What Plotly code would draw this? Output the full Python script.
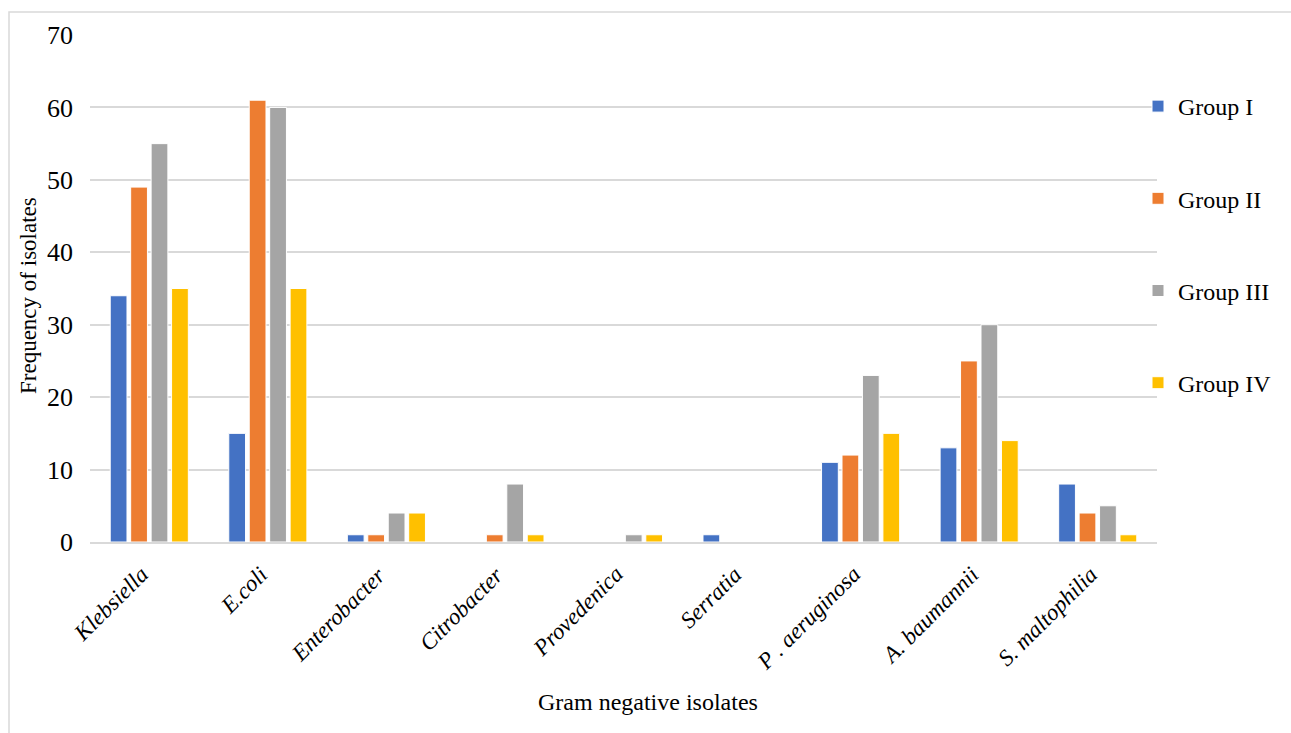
import plotly.graph_objects as go

# Gram negative isolates by patient group
categories = ["Klebsiella", "E.coli", "Enterobacter", "Citrobacter", "Provedenica",
              "Serratia", "P . aeruginosa", "A. baumannii", "S. maltophilia"]
group_names = ["Group I", "Group II", "Group III", "Group IV"]
group_1 = [34, 15, 1, 0, 0, 1, 11, 13, 8]
group_2 = [49, 61, 1, 1, 0, 0, 12, 25, 4]
group_3 = [55, 60, 4, 8, 1, 0, 23, 30, 5]
group_4 = [35, 35, 4, 1, 1, 0, 15, 14, 1]
y_ticks = [0, 10, 20, 30, 40, 50, 60, 70]

colors = ["#4472C4", "#ED7D31", "#A5A5A5", "#FFC000"]
series = [group_1, group_2, group_3, group_4]

W, H = 1291, 733
L, R, T, B = 90, 134, 35, 191
pw = W - L - R
ph = H - T - B

font = "Liberation Serif, Times New Roman, serif"

fig = go.Figure()
for name, vals, col in zip(group_names, series, colors):
    fig.add_trace(go.Bar(
        x=categories, y=vals, name=name, legendgroup=name,
        marker=dict(color=col, line=dict(color="white", width=1)),
    ))

fig.update_layout(
    width=W, height=H,
    margin=dict(l=L, r=R, t=T, b=B, autoexpand=False),
    paper_bgcolor="white", plot_bgcolor="white",
    barmode="group", bargap=0.31, bargroupgap=0.18,
    font=dict(family=font, size=22, color="black"),
    legend=dict(
        x=(1138 - L) / pw, xanchor="left",
        y=1 - (84 - T) / ph, yanchor="top",
        font=dict(family=font, size=24, color="black"),
        tracegroupgap=58, itemclick=False,
        bgcolor="rgba(0,0,0,0)",
    ),
    xaxis=dict(
        range=[-0.5, len(categories) - 0.5], autorange=False,
        showticklabels=False, showgrid=False,
        showline=True, linecolor="#d9d9d9", linewidth=2,
        ticks="", automargin=False,
    ),
    yaxis=dict(
        range=[0, 70], autorange=False, tickvals=y_ticks,
        showgrid=True, gridcolor="#d9d9d9",
        gridwidth=1.5, zeroline=False, showline=False, ticks="",
        ticklabelstandoff=16, automargin=False,
        tickfont=dict(family=font, size=26, color="black"),
    ),
)

# rotated italic category labels, right end anchored under each category
for c in categories:
    fig.add_annotation(
        x=c, y=0, xref="x", yref="y", text=f"<i>{c}</i>",
        textangle=-45, xanchor="right", yanchor="top",
        xshift=7, yshift=-17, showarrow=False,
        font=dict(family=font, size=23, color="black"),
    )

# axis titles
fig.add_annotation(
    x=(648 - L) / pw, y=-(702 - T - ph) / ph, xref="paper", yref="paper",
    text="Gram negative isolates", showarrow=False,
    xanchor="center", yanchor="middle",
    font=dict(family=font, size=24, color="black"),
)
fig.add_annotation(
    x=(28 - L) / pw, y=1 - (296 - T) / ph, xref="paper", yref="paper",
    text="Frequency of isolates", showarrow=False, textangle=-90,
    xanchor="center", yanchor="middle",
    font=dict(family=font, size=23, color="black"),
)

# outer chart frame
fig.add_shape(
    type="rect", xref="paper", yref="paper",
    x0=(9 - L) / pw, x1=(W + 5 - L) / pw,
    y0=-(H + 5 - T - ph) / ph, y1=1 + (T - 12) / ph,
    line=dict(color="#d9d9d9", width=1.5), fillcolor="rgba(0,0,0,0)", layer="below",
)

fig.write_html("out.html")
